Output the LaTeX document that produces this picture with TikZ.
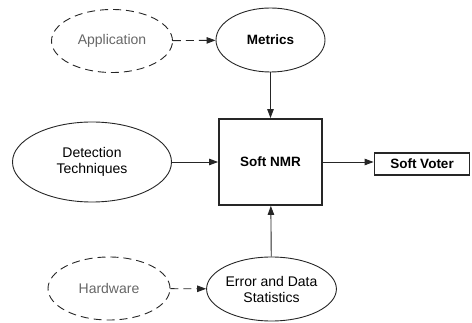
\documentclass[tikz,border=0pt]{standalone}
\usepackage{fontspec}
\setmainfont{Liberation Sans}
\usetikzlibrary{shapes.geometric,arrows.meta}
\begin{document}
\begin{tikzpicture}[x=1pt,y=1pt,
  ell/.style={draw=black!85,ellipse,line width=0.9pt,inner sep=0pt,align=center,
    font=\fontsize{14}{16}\selectfont},
  dell/.style={ell,dash pattern=on 8pt off 5pt,text=black!60},
  boxn/.style={draw=black!85,rectangle,line width=1.8pt,inner sep=0pt,
    font=\fontsize{13.5}{16}\selectfont\bfseries},
  arr/.style={line width=0.9pt,draw=black!85,-{Triangle[length=9pt,width=6.5pt]}},
  darr/.style={arr,dash pattern=on 8pt off 5pt}]
\useasboundingbox (0,0) rectangle (472,-323);
\node[dell,minimum width=121pt,minimum height=63pt] (app) at (112,-41) {Application};
\node[ell,minimum width=109pt,minimum height=64pt,font=\fontsize{13.5}{16}\selectfont\bfseries] (met) at (270.5,-40) {Metrics};
\node[boxn,minimum width=103pt,minimum height=86pt] (nmr) at (270.5,-162) {Soft NMR};
\node[ell,minimum width=159pt,minimum height=80pt] (det) at (92,-162) {Detection\\Techniques};
\node[boxn,minimum width=95pt,minimum height=22pt] (vot) at (422,-164) {Soft Voter};
\node[dell,minimum width=122pt,minimum height=63pt] (hw) at (109,-288.5) {Hardware};
\node[ell,minimum width=127pt,minimum height=64pt] (err) at (271.5,-289) {Error and Data\\Statistics};
\draw[darr] (app) -- (met);
\draw[arr] (met) -- (nmr);
\draw[arr] (det) -- (nmr);
\draw[arr] (nmr.east) -- (nmr.east -| vot.west);
\draw[darr] (hw) -- (err);
\draw[arr] (err) -- (nmr);
\end{tikzpicture}
\end{document}
